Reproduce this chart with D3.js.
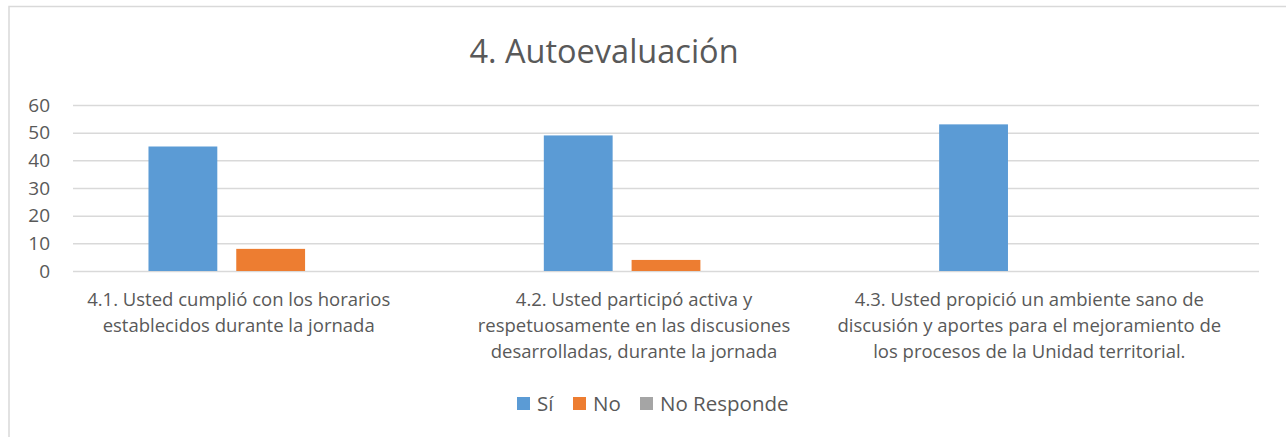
<!DOCTYPE html>
<html>
<head>
<meta charset="utf-8">
<script src="https://cdn.jsdelivr.net/npm/d3@7"></script>
<style>
  body { margin: 0; background: #fff; }
  text { font-family: "Open Sans", sans-serif; fill: #595959; }
</style>
</head>
<body>
<script>
// Chart data
var categories = [
  "4.1. Usted cumplió con los horarios\nestablecidos durante la jornada",
  "4.2. Usted participó activa y\nrespetuosamente en las discusiones\ndesarrolladas, durante la jornada",
  "4.3. Usted propició un ambiente sano de\ndiscusión y aportes para el mejoramiento de\nlos procesos de la Unidad territorial."
]
var seriesNames = ["Sí", "No", "No Responde"]
var si = [45, 49, 53]
var no = [8, 4, 0]
var noResponde = [0, 0, 0]
var yTicks = [0, 10, 20, 30, 40, 50, 60]
var colors = ["#5B9BD5", "#ED7D31", "#A5A5A5"]

var W = 1286, H = 437
var margin = {top: 105, right: 27, bottom: 166, left: 73},
    width = W - margin.left - margin.right,
    height = H - margin.top - margin.bottom

var seriesValues = [si, no, noResponde]
var data = categories.map((c, i) => ({
  cat: c,
  values: seriesNames.map((s, j) => ({key: s, value: seriesValues[j][i]}))
}))

var svg = d3.select("body").append("svg")
    .attr("width", W)
    .attr("height", H)

// chart border
svg.append("rect")
    .attr("x", 9).attr("y", 6.5)
    .attr("width", W + 10).attr("height", H + 10)
    .attr("fill", "none")
    .attr("stroke", "#d9d9d9")
    .attr("stroke-width", 1.5)

// title
svg.append("text")
    .attr("x", 604).attr("y", 63)
    .attr("text-anchor", "middle")
    .style("font-size", "32.5px")
    .text("4. Autoevaluación")

var g = svg.append("g")
    .attr("transform", "translate(" + margin.left + "," + margin.top + ")")

// scales
var x0 = d3.scaleBand().domain(categories).range([0, width]).padding(0)
var x1 = d3.scaleBand().domain(seriesNames).range([0, x0.bandwidth()])
    .paddingInner(0.216).paddingOuter(0.86)
var y = d3.scaleLinear().domain([0, 60]).range([height, 0])

// y axis + gridlines
var yAxis = g.append("g")
    .call(d3.axisLeft(y).tickValues(yTicks).tickSize(-width).tickPadding(23))
yAxis.select(".domain").remove()
yAxis.selectAll("line").attr("stroke", "#d9d9d9").attr("stroke-width", 1.5)
yAxis.selectAll("text").style("font-size", "19px").attr("fill", "#595959")

// bars
g.selectAll(".group")
    .data(data)
  .enter().append("g")
    .attr("transform", d => "translate(" + x0(d.cat) + ",0)")
  .selectAll("rect")
    .data(d => d.values)
  .enter().append("rect")
    .attr("x", d => x1(d.key))
    .attr("y", d => y(d.value))
    .attr("width", x1.bandwidth())
    .attr("height", d => height - y(d.value))
    .attr("fill", (d, i) => colors[i])

// x axis labels
var xAxis = g.append("g")
    .attr("transform", "translate(0," + height + ")")
    .call(d3.axisBottom(x0).tickSize(0).tickFormat(""))
xAxis.select(".domain").remove()
xAxis.selectAll(".tick").append("text")
    .attr("text-anchor", "middle")
    .attr("transform", "translate(-32,0)")
    .style("font-size", "18.5px")
    .attr("fill", "#595959")
    .each(function(d) {
      var t = d3.select(this)
      d.split("\n").forEach((line, i) => {
        t.append("tspan").attr("x", 0).attr("y", 35 + i * 26).text(line)
      })
    })

// legend
var legendX = [517, 573, 640]
var legend = svg.append("g")
legend.selectAll("g")
    .data(seriesNames)
  .enter().append("g")
    .attr("transform", (d, i) => "translate(" + legendX[i] + ",397)")
    .each(function(d, i) {
      var lg = d3.select(this)
      lg.append("rect").attr("width", 13).attr("height", 13).attr("fill", colors[i])
      lg.append("text").attr("x", 20).attr("y", 13.5)
        .style("font-size", "20.5px")
        .text(d)
    })
</script>
</body>
</html>
